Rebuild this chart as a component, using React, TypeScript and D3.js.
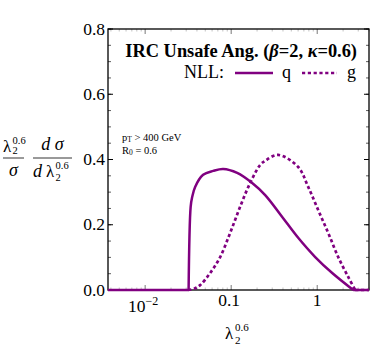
import React from "react";
import * as d3 from "d3";

// quark (solid) curve: x values and y values
const quarkX = [0.0037, 0.0320, 0.0338, 0.0352, 0.0381, 0.0472, 0.0618, 0.0807, 0.1174, 0.1755, 0.2485, 0.392, 0.601, 0.948, 1.494, 2.622, 4.0];
const quarkY = [0, 0, 0.255, 0.285, 0.316, 0.353, 0.365, 0.371, 0.359, 0.328, 0.291, 0.224, 0.160, 0.101, 0.052, 0, 0];

// gluon (dashed) curve
const gluonX = [0.0316, 0.0371, 0.0436, 0.0570, 0.0745, 0.0973, 0.127, 0.166, 0.217, 0.2485, 0.352, 0.601, 0.786, 1.027, 1.342, 1.754, 2.294, 2.766, 4.0];
const gluonY = [0, 0.004, 0.015, 0.052, 0.101, 0.175, 0.255, 0.328, 0.383, 0.396, 0.414, 0.377, 0.316, 0.245, 0.175, 0.101, 0.040, 0, 0];

const yTicks = [0.0, 0.2, 0.4, 0.6, 0.8];
const yTickLabels = ["0.0", "0.2", "0.4", "0.6", "0.8"];
const xMajor = [0.01, 0.1, 1];

const PURPLE = "#800080";
const FONT = "'Liberation Serif', 'DejaVu Serif', serif";

export default function App() {
  const L = 108, R = 369, T = 29, B = 290;
  const x = d3.scaleLog().domain([0.0037, 4.0]).range([L, R]);
  const y = d3.scaleLinear().domain([0, 0.8]).range([B, T]);

  const smooth = d3.line<[number, number]>().x(d => x(d[0])).y(d => y(d[1])).curve(d3.curveCatmullRom.alpha(0.5));
  const straight = d3.line<[number, number]>().x(d => x(d[0])).y(d => y(d[1])).curve(d3.curveLinear);
  const qPts = quarkX.map((v, i) => [v, quarkY[i]] as [number, number]);
  const gPts = gluonX.map((v, i) => [v, gluonY[i]] as [number, number]);
  const qn = qPts.length, gn = gPts.length;

  const xMinor: number[] = [];
  for (let e = -3; e <= 0; e++) {
    for (let k = 2; k <= 9; k++) {
      const v = k * Math.pow(10, e);
      if (v >= 0.0037 && v <= 4.0) xMinor.push(v);
    }
  }
  const yMinor: number[] = [];
  for (let v = 0; v <= 0.8001; v += 0.05) yMinor.push(+v.toFixed(2));

  return (
    <svg width={382} height={346} style={{ position: "absolute", left: 0, top: 0, background: "#fff" }} fontFamily={FONT}>
      <rect x={0} y={0} width={382} height={346} fill="#fff" />
      {xMinor.map((v, i) => (
        <g key={"xm" + i} stroke="#999" strokeWidth={0.6}>
          <line x1={x(v)} x2={x(v)} y1={B} y2={B - 2.5} />
          <line x1={x(v)} x2={x(v)} y1={T} y2={T + 2.5} />
        </g>
      ))}
      {xMajor.map((v, i) => (
        <g key={"xM" + i} stroke="#555" strokeWidth={0.8}>
          <line x1={x(v)} x2={x(v)} y1={B} y2={B - 5} />
          <line x1={x(v)} x2={x(v)} y1={T} y2={T + 5} />
        </g>
      ))}
      {yMinor.map((v, i) => (
        <g key={"ym" + i} stroke="#333" strokeWidth={0.8}>
          <line x1={L} x2={L + 3} y1={y(v)} y2={y(v)} />
          <line x1={R} x2={R - 3} y1={y(v)} y2={y(v)} />
        </g>
      ))}
      {yTicks.map((v, i) => (
        <g key={"yM" + i} stroke="#000" strokeWidth={1}>
          <line x1={L} x2={L + 5} y1={y(v)} y2={y(v)} />
          <line x1={R} x2={R - 5} y1={y(v)} y2={y(v)} />
        </g>
      ))}
      <rect x={L} y={T} width={R - L} height={B - T} fill="none" stroke="#000" strokeWidth={1.3} />

      {/* curves */}
      <path d={straight(qPts.slice(0, 2)) || ""} fill="none" stroke={PURPLE} strokeWidth={2.5} />
      <path d={smooth(qPts.slice(1, qn - 1)) || ""} fill="none" stroke={PURPLE} strokeWidth={2.5} strokeLinejoin="round" />
      <path d={straight(qPts.slice(qn - 2)) || ""} fill="none" stroke={PURPLE} strokeWidth={2.5} />
      <path d={smooth(gPts.slice(0, gn - 1)) || ""} fill="none" stroke={PURPLE} strokeWidth={2.7} strokeDasharray="3.2,2.6" />
      <path d={straight(gPts.slice(gn - 2)) || ""} fill="none" stroke={PURPLE} strokeWidth={2.7} strokeDasharray="3.2,2.6" />

      {/* y tick labels */}
      {yTicks.map((v, i) => (
        <text key={"yl" + i} x={L - 3} y={y(v) + 5.5} textAnchor="end" fontSize={17.5}>{yTickLabels[i]}</text>
      ))}
      {/* x tick labels */}
      <text x={128} y={312} fontSize={17.5}>10<tspan dy={-7} fontSize={12}>−2</tspan></text>
      <text x={x(0.1) - 2} y={306} textAnchor="middle" fontSize={17.5}>0.1</text>
      <text x={x(1)} y={306} textAnchor="middle" fontSize={17.5}>1</text>

      {/* x axis label */}
      <text x={225} y={339} fontSize={17}>λ</text>
      <text x={235} y={331} fontSize={11}>0.6</text>
      <text x={235} y={344} fontSize={11}>2</text>

      {/* y axis label */}
      <text x={3} y={152} fontSize={17}>λ</text>
      <text x={12.5} y={143.5} fontSize={10.5}>0.6</text>
      <text x={12.5} y={154} fontSize={10.5}>2</text>
      <line x1={3} x2={24} y1={158} y2={158} stroke="#000" strokeWidth={0.8} />
      <text x={13.5} y={176} fontSize={18} fontStyle="italic" textAnchor="middle">σ</text>

      <text x={52.5} y={150} fontSize={18} fontStyle="italic" textAnchor="middle">d σ</text>
      <line x1={33} x2={72} y1={158} y2={158} stroke="#000" strokeWidth={0.8} />
      <text x={33} y={177} fontSize={18} fontStyle="italic">d</text>
      <text x={46} y={177} fontSize={17}>λ</text>
      <text x={55.5} y={169} fontSize={10.5}>0.6</text>
      <text x={55.5} y={181} fontSize={10.5}>2</text>

      {/* legend */}
      <text x={357} y={57} textAnchor="end" fontSize={18.4} fontWeight="bold">IRC Unsafe Ang. (<tspan fontStyle="italic">β</tspan>=2, <tspan fontStyle="italic">κ</tspan>=0.6)</text>
      <text x={224} y={78} textAnchor="end" fontSize={18}>NLL:</text>
      <line x1={235} x2={273} y1={73} y2={73} stroke={PURPLE} strokeWidth={2.5} />
      <text x={282} y={78} fontSize={18}>q</text>
      <line x1={302} x2={337} y1={73} y2={73} stroke={PURPLE} strokeWidth={2.7} strokeDasharray="3.2,2.6" />
      <text x={347} y={78} fontSize={18}>g</text>

      {/* annotation */}
      <text x={122} y={141} fontSize={10.5}>p<tspan fontSize={7.5} dy={1}>T</tspan><tspan dy={-1}> &gt; 400 GeV</tspan></text>
      <text x={122} y={154} fontSize={10.5}>R<tspan fontSize={7.5} dy={1}>0</tspan><tspan dy={-1}> = 0.6</tspan></text>
    </svg>
  );
}
